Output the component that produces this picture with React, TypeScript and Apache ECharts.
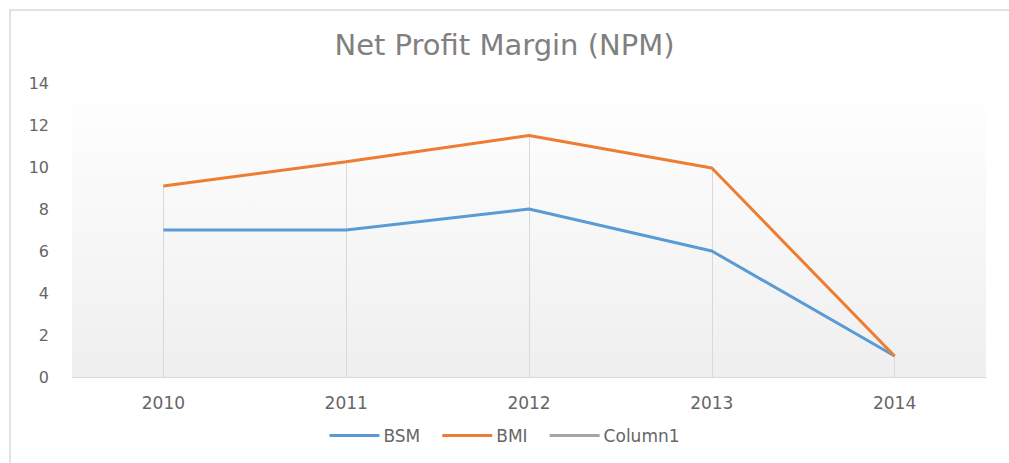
import React, { useEffect, useRef } from "react";
import * as echarts from "echarts";

const categories = ["2010", "2011", "2012", "2013", "2014"];
const bsm = [7.0, 7.0, 8.0, 6.0, 1.0];
const bmi = [9.1, 10.25, 11.5, 9.95, 1.0];
const column1: (number | null)[] = [];
const yTicks = { min: 0, max: 14, interval: 2 };

const FONT = "DejaVu Sans";
const TEXT = "#666666";

export default function App() {
  const ref = useRef<HTMLDivElement>(null);
  useEffect(() => {
    if (!ref.current) return;
    const chart = echarts.init(ref.current, null, { renderer: "svg" });
    const drops = categories.map((c, i) => [
      { coord: [c, 0] },
      { coord: [c, Math.max(bsm[i], bmi[i])] },
    ]);
    chart.setOption({
      animation: false,
      backgroundColor: "#ffffff",
      textStyle: { fontFamily: FONT, color: TEXT },
      title: {
        text: "Net Profit Margin (NPM)",
        left: "center",
        top: 25,
        textStyle: { fontFamily: FONT, fontSize: 29, fontWeight: "normal", color: "#808080" },
      },
      graphic: [
        {
          type: "rect",
          shape: { x: 10, y: 10, width: 1200, height: 600 },
          style: { fill: "none", stroke: "#d9d9d9", lineWidth: 1.5 },
          silent: true,
          z: -1,
        },
      ],
      grid: {
        left: 72,
        right: 23,
        top: 83,
        bottom: 86,
        show: true,
        borderWidth: 0,
        backgroundColor: new echarts.graphic.LinearGradient(0, 0, 0, 1, [
          { offset: 0, color: "#ffffff" },
          { offset: 1, color: "#efefef" },
        ]),
      },
      legend: {
        bottom: 14,
        left: "center",
        icon: "rect",
        itemWidth: 50,
        itemHeight: 3,
        itemGap: 22,
        textStyle: { fontFamily: FONT, fontSize: 17, color: TEXT, padding: [0, 0, 0, -1] },
        data: ["BSM", "BMI", "Column1"],
      },
      xAxis: {
        type: "category",
        data: categories,
        boundaryGap: true,
        axisLine: { show: true, lineStyle: { color: "#d9d9d9", width: 1 } },
        axisTick: { show: false },
        splitLine: { show: false },
        axisLabel: { fontFamily: FONT, fontSize: 17, color: TEXT, margin: 17 },
      },
      yAxis: {
        type: "value",
        min: yTicks.min,
        max: yTicks.max,
        interval: yTicks.interval,
        axisLine: { show: false },
        axisTick: { show: false },
        splitLine: { show: false },
        axisLabel: { fontFamily: FONT, fontSize: 16, color: TEXT, margin: 23 },
      },
      series: [
        {
          name: "BSM",
          type: "line",
          data: bsm,
          symbol: "none",
          color: "#5B9BD5",
          lineStyle: { width: 3, color: "#5B9BD5" },
          z: 3,
        },
        {
          name: "BMI",
          type: "line",
          data: bmi,
          symbol: "none",
          color: "#ED7D31",
          lineStyle: { width: 3, color: "#ED7D31" },
          z: 4,
          markLine: {
            silent: true,
            symbol: "none",
            label: { show: false },
            lineStyle: { color: "#d9d9d9", width: 1, type: "solid" },
            z: 1,
            data: drops,
          },
        },
        {
          name: "Column1",
          type: "line",
          data: column1,
          symbol: "none",
          color: "#A5A5A5",
          lineStyle: { width: 3, color: "#A5A5A5" },
        },
      ],
    });
    return () => chart.dispose();
  }, []);
  return (
    <div
      ref={ref}
      style={{ position: "absolute", left: 0, top: 0, width: 1009, height: 463 }}
    />
  );
}
